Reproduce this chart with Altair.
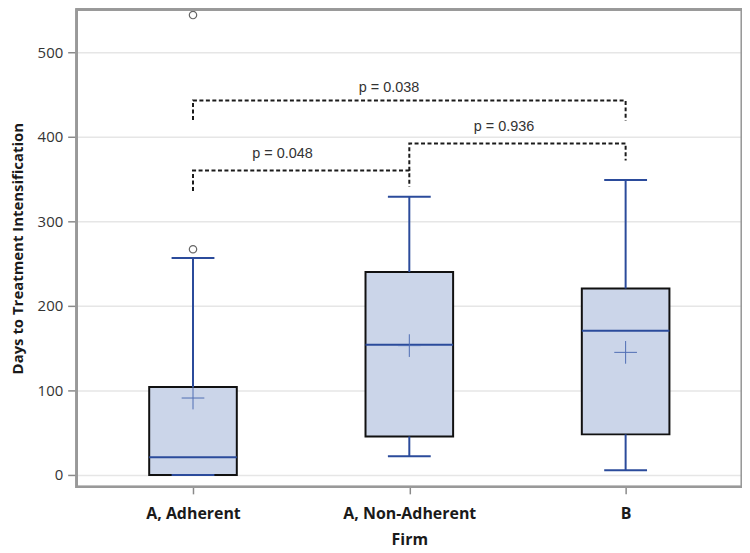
import json
import altair as alt
import pandas as pd

# ---- data ----
groups = ["A, Adherent", "A, Non-Adherent", "B"]
group_pos = [1, 2, 3]
q1 = [0, 45.5, 48]
median = [21, 154, 170.5]
q3 = [104, 240, 220.5]
mean = [91, 153, 145]
whisker_lo = [0, 22, 5.5]
whisker_hi = [256.5, 329, 349]

outlier_pos = [1, 1]
outlier_val = [267, 544]

bracket_label = ["p = 0.048", "p = 0.936", "p = 0.038"]
bracket_x1 = [1, 2, 1]
bracket_x2 = [2, 3, 3]
bracket_top = [360, 392, 443]
bracket_left_end = [336, 360, 420]
bracket_right_end = [341, 372, 419]
label_x = [1.414, 2.438, 1.906]
label_y = [380, 411, 458]

y_ticks = [0, 100, 200, 300, 400, 500]

# ---- tables ----
stats = pd.DataFrame({
    "group": groups, "pos": group_pos, "q1": q1, "median": median, "q3": q3,
    "mean": mean, "lo": whisker_lo, "hi": whisker_hi,
})
outliers = pd.DataFrame({"pos": outlier_pos, "val": outlier_val})

rows = []
for i in range(len(bracket_label)):
    pts = [(bracket_x1[i], bracket_left_end[i]), (bracket_x1[i], bracket_top[i]),
           (bracket_x2[i], bracket_top[i]), (bracket_x2[i], bracket_right_end[i])]
    for k, (bx, by) in enumerate(pts):
        rows.append({"bracket": i, "order": k, "bx": bx, "by": by})
brackets = pd.DataFrame(rows)
plabels = pd.DataFrame({"label": bracket_label, "lx": label_x, "ly": label_y})

XDOM = [0.462, 3.538]
YDOM = [-14.1, 550.6]
BLUE = "#2b4b9b"
BOX_HALF = 0.2025
CAP_HALF = 0.099

label_expr = f"{json.dumps(groups)}[round(datum.value)-1]"

xax = alt.X("pos:Q", scale=alt.Scale(domain=XDOM, nice=False, zero=False),
            axis=alt.Axis(values=group_pos, labelExpr=label_expr, title="Firm",
                          grid=False, tickSize=7, tickColor="#8a8a8a", tickWidth=1.5,
                          labelFontSize=16, labelFontWeight="bold", labelColor="#1a1a1a",
                          labelPadding=12, titlePadding=10, titleFontSize=16,
                          titleFontWeight="bold", titleColor="#1a1a1a",
                          labelFont="Open Sans", titleFont="Open Sans", domain=False))
yax = alt.Y("q1:Q", scale=alt.Scale(domain=YDOM, nice=False, zero=False),
            axis=alt.Axis(values=y_ticks, title="Days to Treatment Intensification",
                          grid=True, gridColor="#e6e6e6", gridWidth=1.5,
                          tickSize=9, tickColor="#8a8a8a", tickWidth=1.5,
                          labelFontSize=15, labelColor="#333333", labelPadding=5,
                          titleFontSize=15, titleFontWeight="bold", titleColor="#1a1a1a",
                          titlePadding=12, labelFont="Open Sans", titleFont="Open Sans",
                          domain=False))

base = alt.Chart(stats).transform_calculate(
    xl=f"datum.pos - {BOX_HALF}", xr=f"datum.pos + {BOX_HALF}",
    cl=f"datum.pos - {CAP_HALF}", cr=f"datum.pos + {CAP_HALF}",
)

whisk_up = base.mark_rule(color=BLUE, strokeWidth=2).encode(
    x=xax, y=alt.Y("q3:Q", scale=alt.Scale(domain=YDOM, nice=False)), y2="hi:Q")
whisk_dn = base.mark_rule(color=BLUE, strokeWidth=2).encode(
    x="pos:Q", y="lo:Q", y2="q1:Q")
box = base.mark_rect(fill="#cbd5e9", stroke="#111111", strokeWidth=2).encode(
    x="xl:Q", x2="xr:Q", y=yax, y2="q3:Q")
med = base.mark_rule(color=BLUE, strokeWidth=2).encode(
    x="xl:Q", x2="xr:Q", y="median:Q")
cap_hi = base.mark_rule(color=BLUE, strokeWidth=2).encode(
    x="cl:Q", x2="cr:Q", y="hi:Q")
cap_lo = base.mark_rule(color=BLUE, strokeWidth=2).encode(
    x="cl:Q", x2="cr:Q", y="lo:Q")
mean_pt = base.mark_point(shape="M-1,0L1,0M0,-1L0,1", size=520, filled=False,
                          stroke="#4f6db3", strokeWidth=1, opacity=1).encode(
    x="pos:Q", y="mean:Q")

out_pts = alt.Chart(outliers).mark_point(shape="circle", size=55, filled=False,
                                         stroke="#666666", strokeWidth=1.2, opacity=1).encode(
    x="pos:Q", y="val:Q")

br = alt.Chart(brackets).mark_line(color="#1a1a1a", strokeWidth=2, strokeDash=[4, 2.5],
                                    interpolate="linear").encode(
    x="bx:Q", y="by:Q", detail="bracket:N", order="order:Q")

txt = alt.Chart(plabels).mark_text(font="Liberation Sans", fontSize=14.5, color="#333333",
                                   align="center", baseline="middle").encode(
    x="lx:Q", y="ly:Q", text="label:N")

frame = alt.Chart(stats).mark_rect(fill=None, stroke="#999999", strokeWidth=2.5,
                                   filled=False).encode(
    x=alt.value(0), x2=alt.value(669), y=alt.value(0), y2=alt.value(480))

chart = alt.layer(box, whisk_up, whisk_dn, med, cap_hi, cap_lo, mean_pt, out_pts, br, txt,
                  frame).properties(
    width=669, height=480,
    autosize=alt.AutoSizeParams(type="none"),
    padding={"left": 69, "top": 0, "right": 0, "bottom": 66},
).configure_view(stroke=None).configure(background="white")

chart.save("out.html", embed_options={"renderer": "svg", "actions": False})
